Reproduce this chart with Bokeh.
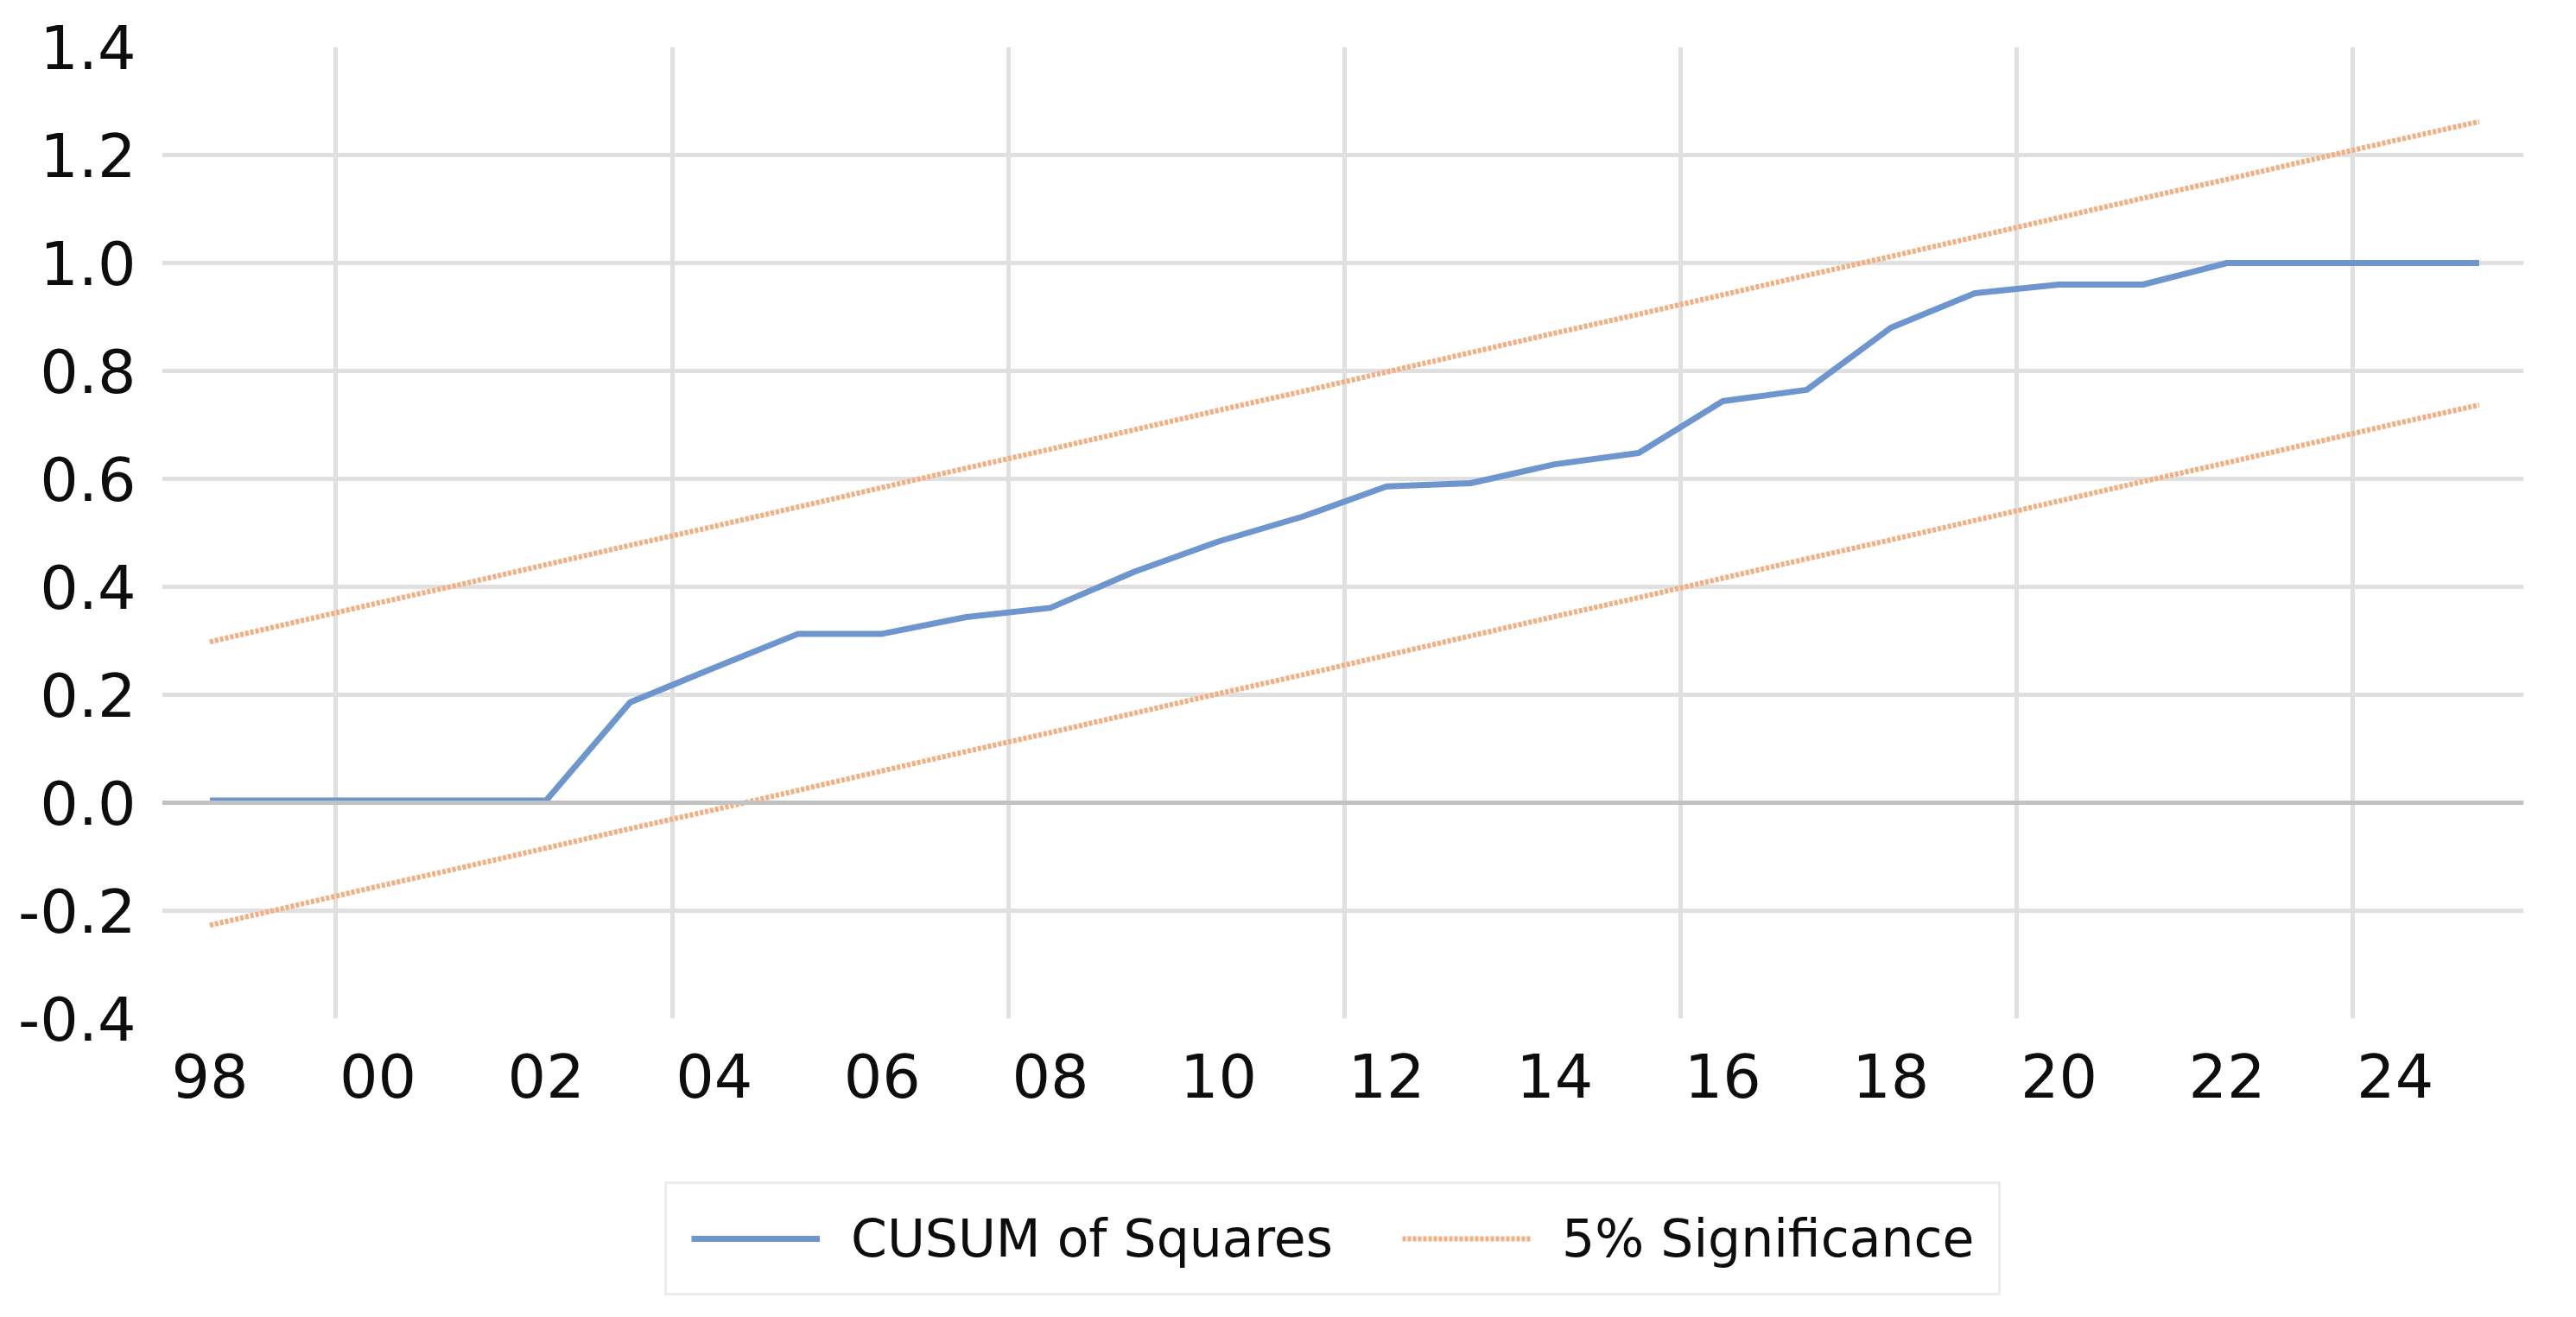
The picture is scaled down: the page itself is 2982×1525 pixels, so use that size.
from bokeh.plotting import figure
from bokeh.layouts import column
from bokeh.models import (FixedTicker, Legend, LegendItem, Grid, Span,
                          NumeralTickFormatter, Range1d)
from bokeh.embed import file_html
from bokeh.resources import INLINE

years = list(range(1998, 2026))
cusum_sq = [0.004, 0.004, 0.004, 0.004, 0.004, 0.186, 0.250, 0.313, 0.313, 0.344,
            0.361, 0.428, 0.484, 0.530, 0.586, 0.592, 0.627, 0.648, 0.744, 0.765,
            0.880, 0.944, 0.960, 0.960, 1.000, 1.000, 1.000, 1.000]
upper_5 = [0.298, 0.334, 0.370, 0.405, 0.441, 0.477, 0.512, 0.548, 0.584, 0.620,
           0.655, 0.691, 0.727, 0.762, 0.798, 0.834, 0.870, 0.905, 0.941, 0.977,
           1.012, 1.048, 1.084, 1.120, 1.155, 1.191, 1.227, 1.262]
lower_5 = [-0.227, -0.191, -0.155, -0.120, -0.084, -0.048, -0.013, 0.023, 0.059, 0.095,
           0.130, 0.166, 0.202, 0.237, 0.273, 0.309, 0.345, 0.380, 0.416, 0.452,
           0.487, 0.523, 0.559, 0.595, 0.630, 0.666, 0.702, 0.737]
x_tick_years = [1998, 2000, 2002, 2004, 2006, 2008, 2010, 2012, 2014, 2016, 2018, 2020, 2022, 2024]
x_tick_labels = ["98", "00", "02", "04", "06", "08", "10", "12", "14", "16", "18", "20", "22", "24"]
x_grid_pos = [1999.5, 2003.5, 2007.5, 2011.5, 2015.5, 2019.5, 2023.5]
y_ticks = [-0.4, -0.2, 0.0, 0.2, 0.4, 0.6, 0.8, 1.0, 1.2, 1.4]
y_grid_pos = [-0.2, 0.2, 0.4, 0.6, 0.8, 1.0, 1.2]
series_labels = ["CUSUM of Squares", "5% Significance"]

FONT = "DejaVu Sans"
BLUE = "#6E96CE"
ORANGE = "#F4AE80"

p = figure(width=2966, height=1329, output_backend="svg", toolbar_location=None,
           x_range=Range1d(1997.43, 2025.53), y_range=Range1d(-0.4, 1.4),
           min_border_left=187, min_border_right=45, min_border_top=54,
           min_border_bottom=150)
p.outline_line_color = None
p.background_fill_color = "white"
p.border_fill_color = "white"

# grids
p.xgrid.visible = False
p.ygrid.visible = False
p.add_layout(Grid(dimension=0, ticker=FixedTicker(ticks=x_grid_pos),
                  grid_line_color="#e0e0e0", grid_line_width=5))
p.add_layout(Grid(dimension=1, ticker=FixedTicker(ticks=y_grid_pos),
                  grid_line_color="#e0e0e0", grid_line_width=5))
p.add_layout(Span(location=0.0, dimension="width", line_color="#c2c2c2", line_width=5))

# axes
p.xaxis.ticker = FixedTicker(ticks=x_tick_years)
p.xaxis.major_label_overrides = {y: l for y, l in zip(x_tick_years, x_tick_labels)}
p.yaxis.ticker = FixedTicker(ticks=y_ticks)
p.yaxis.formatter = NumeralTickFormatter(format="0.0")
for ax in (p.xaxis, p.yaxis):
    ax.axis_line_color = None
    ax.major_tick_line_color = None
    ax.minor_tick_line_color = None
    ax.major_label_text_font = FONT
    ax.major_label_text_color = "#0d0d0d"
p.xaxis.major_label_text_font_size = "70px"
p.yaxis.major_label_text_font_size = "70px"
p.xaxis.major_label_standoff = 34
p.yaxis.major_label_standoff = 24

p.line(years, upper_5, line_color=ORANGE, line_width=6, line_dash="4 2")
p.line(years, lower_5, line_color=ORANGE, line_width=6, line_dash="4 2")
p.line(years, cusum_sq, line_color=BLUE, line_width=7)

# legend strip (second figure sharing the same series, drawn off-range)
q = figure(width=2966, height=180, output_backend="svg", toolbar_location=None,
           x_axis_type=None, y_axis_type=None,
           x_range=Range1d(0, 1), y_range=Range1d(0, 1), min_border=0)
q.outline_line_color = None
q.xgrid.visible = False
q.ygrid.visible = False
q.background_fill_color = "white"
q.border_fill_color = "white"
l_cs = q.line(years, cusum_sq, line_color=BLUE, line_width=7)
l_sig = q.line(years, upper_5, line_color=ORANGE, line_width=6, line_dash="4 2")

legend = Legend(items=[LegendItem(label=series_labels[0], renderers=[l_cs]),
                       LegendItem(label=series_labels[1], renderers=[l_sig])],
                location=(582, 9), orientation="horizontal",
                glyph_width=149, glyph_height=56, label_height=56,
                label_standoff=36, spacing=80, padding=28, margin=0,
                border_line_color="#d9d9d9", border_line_width=3,
                background_fill_color="white", background_fill_alpha=1.0,
                label_text_font=FONT, label_text_font_size="60px",
                label_text_color="#0d0d0d")
q.add_layout(legend)

layout = column(p, q, spacing=0)
open("out.html", "w").write(file_html(layout, INLINE))
